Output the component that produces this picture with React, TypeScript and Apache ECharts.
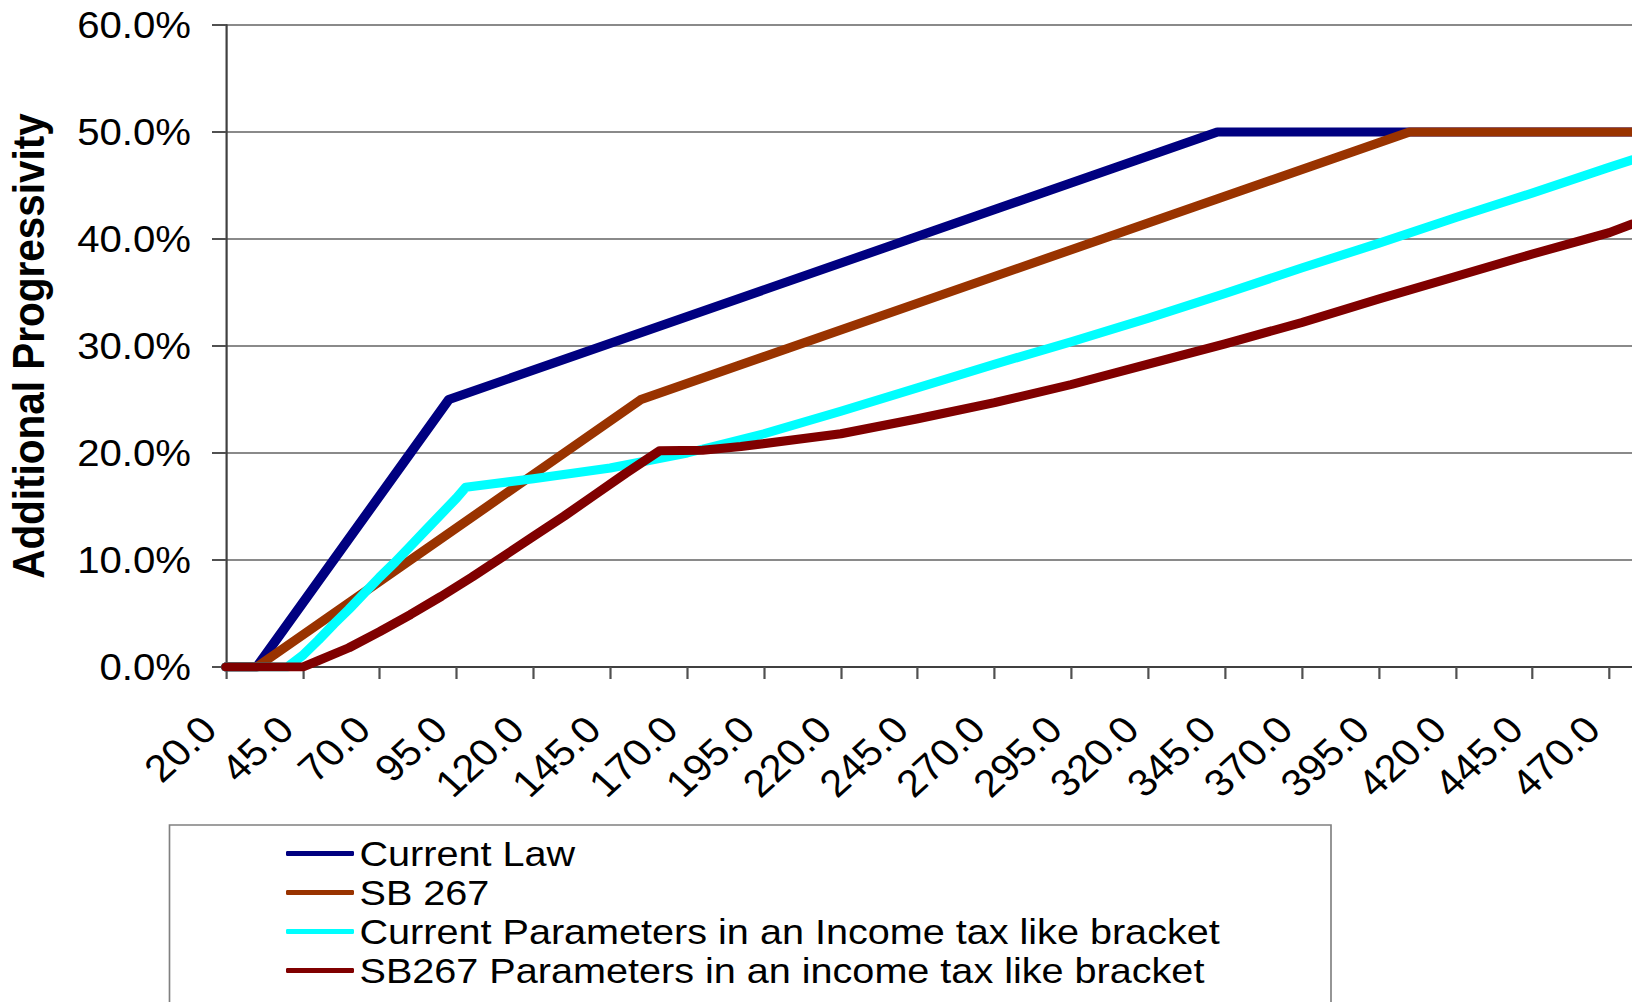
import React, { useEffect, useRef } from "react";
import * as echarts from "echarts";

// Income (thousands) tick positions along the x axis
const xTickValues = [20, 45, 70, 95, 120, 145, 170, 195, 220, 245, 270, 295, 320, 345, 370, 395, 420, 445, 470];

const seriesNames = [
  "Current Law",
  "SB 267",
  "Current Parameters in an Income tax like bracket",
  "SB267 Parameters in an income tax like bracket",
];

const seriesColors = ["#000080", "#993300", "#00FFFF", "#800000"];

// Current Law
const currentLawX = [20, 30, 92.5, 342.5, 477.5];
const currentLawY = [0, 0, 25, 50, 50];

// SB 267
const sb267X = [20, 30, 155, 405, 477.5];
const sb267Y = [0, 0, 25, 50, 50];

// Current parameters, bracket style
const currentBracketX = [20, 40, 45, 50, 55, 60, 65, 70, 75, 80, 85, 90, 95, 98, 120, 145, 170, 195, 220, 245, 270, 295, 320, 345, 370, 395, 420, 445, 470, 477.5];
const currentBracketY = [0, 0, 1.1, 2.5, 4.0, 5.4, 6.9, 8.4, 9.8, 11.3, 12.8, 14.3, 15.8, 16.8, 17.6, 18.6, 20.0, 21.8, 23.9, 26.1, 28.3, 30.4, 32.6, 34.9, 37.3, 39.6, 42.0, 44.3, 46.7, 47.4];

// SB267 parameters, bracket style
const sb267BracketX = [20, 45, 50, 60, 70, 80, 90, 100, 110, 120, 130, 140, 150, 161, 175, 187.5, 220, 245, 270, 295, 320, 345, 370, 395, 420, 445, 470, 477.5];
const sb267BracketY = [0, 0, 0.6, 1.8, 3.3, 4.9, 6.6, 8.4, 10.3, 12.2, 14.1, 16.1, 18.1, 20.2, 20.25, 20.6, 21.8, 23.2, 24.7, 26.4, 28.3, 30.2, 32.2, 34.4, 36.5, 38.6, 40.6, 41.4];

const pairs = (xs: number[], ys: number[]) => xs.map((x, i) => [x, ys[i]]);

const FONT = "'Liberation Sans', Arial, sans-serif";

// The whole figure is drawn slightly narrower and widened with a horizontal
// scale, which gives the wide lettering of the original spreadsheet chart.
const STRETCH = 1.1;
const PAGE_W = 1632;
const PAGE_H = 1002;
const sx = (px: number) => px / STRETCH;

export default function App() {
  const ref = useRef<HTMLDivElement>(null);

  useEffect(() => {
    if (!ref.current) return;
    const chart = echarts.init(ref.current, null, { renderer: "svg" });

    const dataSets = [
      pairs(currentLawX, currentLawY),
      pairs(sb267X, sb267Y),
      pairs(currentBracketX, currentBracketY),
      pairs(sb267BracketX, sb267BracketY),
    ];

    chart.setOption({
      animation: false,
      backgroundColor: "#ffffff",
      textStyle: { fontFamily: FONT },
      grid: {
        left: sx(226),
        top: 25,
        right: 0,
        bottom: 335,
        containLabel: false,
        outerBoundsMode: "none",
      },
      xAxis: {
        type: "value",
        min: 20,
        max: 477.5,
        axisLine: { show: true, lineStyle: { color: "#404040", width: 2 } },
        axisTick: {
          show: true,
          inside: false,
          length: 12,
          customValues: xTickValues,
          lineStyle: { color: "#505050", width: 2 },
        },
        axisLabel: {
          customValues: xTickValues,
          rotate: 45,
          margin: 40,
          padding: [0, 22, 0, 0],
          fontSize: 38,
          fontFamily: FONT,
          color: "#000000",
          formatter: (v: number) => v.toFixed(1),
        },
        splitLine: { show: false },
      },
      yAxis: {
        type: "value",
        min: 0,
        max: 60,
        interval: 10,
        name: "Additional Progressivity",
        nameLocation: "middle",
        nameRotate: 90,
        nameGap: 159,
        nameTextStyle: {
          fontFamily: FONT,
          fontWeight: "bold",
          fontSize: 40.5,
          color: "#000000",
        },
        axisLine: { show: true, lineStyle: { color: "#404040", width: 2 } },
        axisTick: {
          show: true,
          inside: false,
          length: sx(14),
          lineStyle: { color: "#505050", width: 2 },
        },
        axisLabel: {
          margin: sx(35),
          fontSize: 36.5,
          fontFamily: FONT,
          color: "#000000",
          formatter: (v: number) => v.toFixed(1) + "%",
        },
        splitLine: { show: true, lineStyle: { color: "#8a8a8a", width: 2 } },
      },
      legend: {
        orient: "vertical",
        left: sx(286),
        top: 834,
        padding: 0,
        itemGap: 0,
        itemWidth: sx(68),
        itemHeight: 5,
        icon: "roundRect",
        textStyle: { fontFamily: FONT, fontSize: 36, color: "#000000", lineHeight: 39 },
        data: seriesNames,
      },
      graphic: [
        {
          type: "rect",
          z: -1,
          shape: { x: sx(169.5), y: 825, width: sx(1161.5), height: 260 },
          style: { fill: "none", stroke: "#808080", lineWidth: 1.5 },
        },
      ],
      series: seriesNames.map((name, i) => ({
        name,
        type: "line",
        data: dataSets[i],
        showSymbol: false,
        symbol: "none",
        color: seriesColors[i],
        lineStyle: { color: seriesColors[i], width: 9, cap: "round", join: "round" },
        z: 2 + i,
      })),
    });

    return () => chart.dispose();
  }, []);

  return (
    <div style={{ position: "absolute", left: 0, top: 0, width: PAGE_W, height: PAGE_H, overflow: "hidden", background: "#fff" }}>
      <div
        ref={ref}
        style={{
          width: sx(PAGE_W),
          height: PAGE_H,
          transform: `scaleX(${STRETCH})`,
          transformOrigin: "0 0",
        }}
      />
    </div>
  );
}
